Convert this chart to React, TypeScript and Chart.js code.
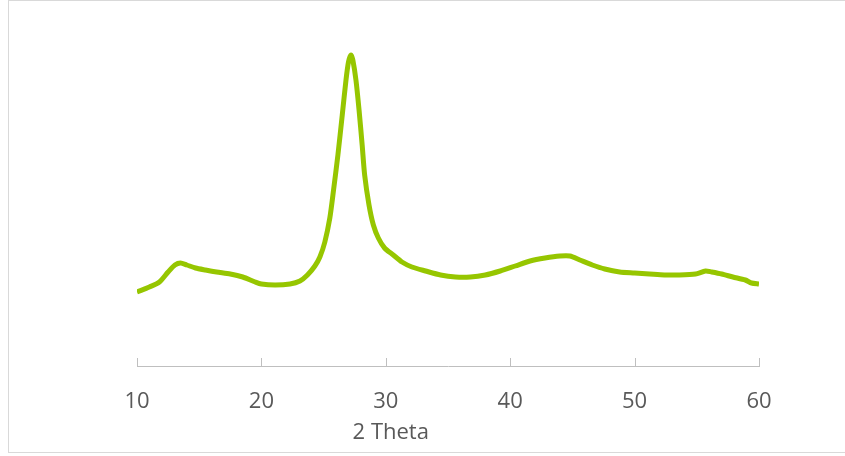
import React, { useEffect, useRef } from "react";
import { Chart, registerables } from "chart.js";

Chart.register(...registerables);

const twoTheta = [
  10.0, 11.0, 11.8, 12.5, 13.05, 13.5, 14.0, 14.7, 15.5, 16.4, 17.5, 18.5, 19.5, 20.0,
  21.1, 22.3, 23.1, 23.7, 24.3, 24.7, 25.1, 25.5, 25.8, 26.15, 26.5, 26.8, 27.0, 27.2,
  27.35, 27.6, 27.85, 28.1, 28.3, 28.65, 29.0, 29.4, 29.9, 30.6, 31.3, 32.1, 33.2, 34.4,
  35.6, 36.8, 38.0, 39.2, 40.4, 41.6, 42.8, 44.0, 44.8, 45.6, 46.6, 47.6, 48.8, 50.0,
  51.2, 52.4, 53.6, 54.9, 55.7, 56.2, 57.0, 57.9, 58.9, 59.4, 60.0,
];
const intensity = [
  740, 790, 840, 940, 1010, 1030, 1010, 980, 960, 940, 920, 890, 840, 820,
  810, 820, 850, 910, 1000, 1090, 1240, 1480, 1760, 2110, 2510, 2860, 3040, 3110,
  3060, 2860, 2560, 2210, 1910, 1610, 1410, 1280, 1180, 1110, 1040, 990, 950, 910,
  890, 890, 910, 950, 1000, 1050, 1080, 1100, 1100, 1060, 1010, 970, 940, 930,
  920, 910, 910, 920, 950, 940, 920, 890, 860, 830, 820,
];
const xTicks = [10, 20, 30, 40, 50, 60];
const xTitle = "2 Theta";

const axisColor = "#bfbfbf";
const textColor = "#595959";
const font = "'Open Sans', sans-serif";

export default function App() {
  const ref = useRef<HTMLCanvasElement | null>(null);
  useEffect(() => {
    if (!ref.current) return;
    const tickMarks = {
      id: "tickMarks",
      afterDraw(chart: any) {
        const ctx = chart.ctx;
        const sx = chart.scales.x;
        const bottom = chart.chartArea.bottom;
        ctx.save();
        ctx.strokeStyle = axisColor;
        ctx.lineWidth = 1;
        sx.ticks.forEach((_t: any, i: number) => {
          const px = Math.round(sx.getPixelForTick(i)) + 0.5;
          ctx.beginPath();
          ctx.moveTo(px, bottom - 8);
          ctx.lineTo(px, bottom);
          ctx.stroke();
        });
        ctx.fillStyle = textColor;
        ctx.font = `22px ${font}`;
        ctx.textAlign = "center";
        ctx.textBaseline = "middle";
        const ca = chart.chartArea;
        ctx.fillText(xTitle, ca.left + 0.408 * (ca.right - ca.left), 433);
        ctx.restore();
      },
    };
    const chart = new Chart(ref.current, {
      type: "line",
      data: {
        datasets: [
          {
            data: twoTheta.map((x, i) => ({ x, y: intensity[i] })),
            borderColor: "rgb(150,198,0)",
            borderWidth: 5,
            pointRadius: 0,
            tension: 0.25,
            fill: false,
          },
        ],
      },
      options: {
        animation: false,
        responsive: false,
        layout: { padding: { left: 137, right: 86, top: 20, bottom: 0 } },
        plugins: { legend: { display: false }, tooltip: { enabled: false } },
        scales: {
          x: {
            type: "linear",
            min: 10,
            max: 60,
            afterBuildTicks: (scale: any) => {
              scale.ticks = xTicks.map((v) => ({ value: v }));
            },
            afterFit: (scale: any) => {
              scale.height = 90;
            },
            grid: { drawOnChartArea: false, drawTicks: false },
            border: { display: true, color: axisColor, width: 1 },
            ticks: {
              color: textColor,
              font: { family: font, size: 22 },
              padding: 23,
              maxRotation: 0,
            },
          },
          y: { display: false, min: 0, max: 3460 },
        },
      },
      plugins: [tickMarks],
    });
    return () => chart.destroy();
  }, []);
  return (
    <div style={{ position: "fixed", left: 0, top: 0, width: 845, height: 456, background: "#fff" }}>
      <div
        style={{
          position: "absolute",
          left: 8,
          top: 0,
          width: 850,
          height: 453,
          border: "1px solid #d9d9d9",
          boxSizing: "border-box",
        }}
      />
      <canvas ref={ref} width={845} height={456} style={{ position: "absolute", left: 0, top: 0 }} />
    </div>
  );
}
